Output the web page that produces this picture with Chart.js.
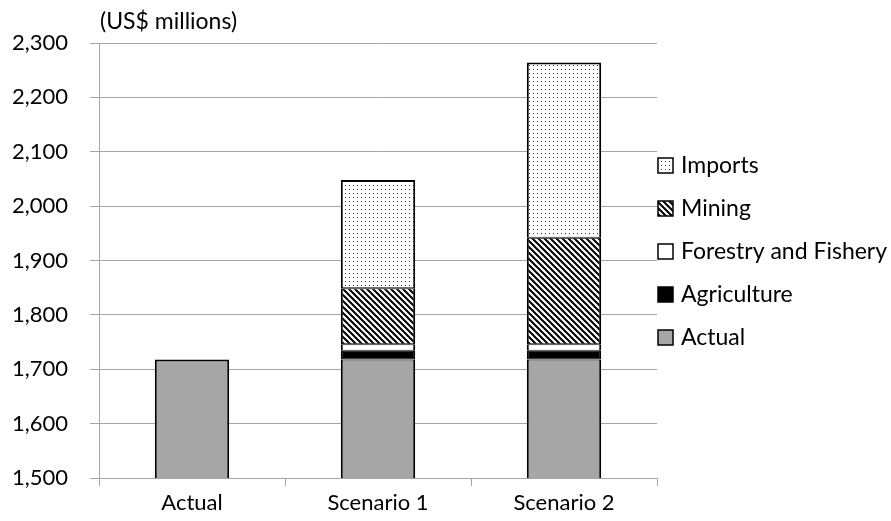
<!DOCTYPE html>
<html lang="en">
<head>
    <meta charset="UTF-8">
    <title>Scenario chart</title>
    <script src="https://cdn.jsdelivr.net/npm/chart.js"></script>
    <style>
        body { margin: 0; background: #ffffff; }
        #wrap { width: 891px; height: 521px; }
    </style>
</head>
<body>
    <div id="wrap"><canvas id="chart"></canvas></div>
    <script>
        // data
        const categories = ['Actual', 'Scenario 1', 'Scenario 2'];
        const actual = [1718, 1718, 1718];
        const agriculture = [null, 16, 16];
        const forestry = [null, 12, 12];
        const mining = [null, 103, 196];
        const imports = [null, 199, 322];
        const yTicks = [1500, 1600, 1700, 1800, 1900, 2000, 2100, 2200, 2300];

        const FONT = 'Lato, "DejaVu Sans", sans-serif';
        const FSIZE = 23;   // legend and unit label
        const TSIZE = 22;   // axis tick labels

        // dotted fill for Imports
        function dotPattern() {
            const c = document.createElement('canvas');
            c.width = 4; c.height = 4;
            const g = c.getContext('2d');
            g.fillStyle = '#ffffff';
            g.fillRect(0, 0, 4, 4);
            g.fillStyle = '#333333';
            g.fillRect(1, 1, 1, 1);
            return g.createPattern(c, 'repeat');
        }

        // diagonal hatch for Mining
        function hatchPattern() {
            const c = document.createElement('canvas');
            c.width = 6; c.height = 6;
            const g = c.getContext('2d');
            g.fillStyle = '#ffffff';
            g.fillRect(0, 0, 6, 6);
            g.strokeStyle = '#000000';
            g.lineWidth = 2;
            g.beginPath();
            g.moveTo(-1, -1); g.lineTo(7, 7);
            g.moveTo(-4, 2); g.lineTo(4, 10);
            g.moveTo(2, -4); g.lineTo(10, 4);
            g.stroke();
            return g.createPattern(c, 'repeat');
        }

        // unit label above the axis
        const unitLabel = {
            id: 'unitLabel',
            afterDraw(chart) {
                const ctx = chart.ctx;
                ctx.save();
                ctx.font = FSIZE + 'px ' + FONT;
                ctx.fillStyle = '#000000';
                ctx.textBaseline = 'middle';
                ctx.fillText('(US$ millions)', chart.chartArea.left + 1, 22);
                ctx.restore();
            }
        };

        // legend on the right, top series first, boxes touching the plot edge
        const sideLegend = {
            id: 'sideLegend',
            afterDraw(chart) {
                const ctx = chart.ctx;
                const area = chart.chartArea;
                const sets = chart.data.datasets.slice().reverse();
                ctx.save();
                ctx.font = FSIZE + 'px ' + FONT;
                ctx.textBaseline = 'middle';
                sets.forEach((ds, i) => {
                    const y = area.top + 122 + i * 43;
                    const x = area.right + 1;
                    ctx.fillStyle = ds.backgroundColor;
                    ctx.fillRect(x, y - 7, 15, 15);
                    ctx.strokeStyle = '#000000';
                    ctx.lineWidth = 1.5;
                    ctx.strokeRect(x, y - 7, 15, 15);
                    ctx.fillStyle = '#000000';
                    ctx.fillText(ds.label, x + 23, y + 1);
                });
                ctx.restore();
            }
        };

        // thin shared edges between stacked segments, heavier outline on the outside
        function edges(topW) {
            return ctx => ({ left: 2, right: 2, bottom: 1, top: (ctx.datasetIndex === 4 || ctx.dataIndex === 0) ? 2 : topW });
        }

        const barStyle = { borderColor: '#000000', borderSkipped: false, stack: 's' };

        new Chart(document.getElementById('chart'), {
            type: 'bar',
            data: {
                labels: categories,
                datasets: [
                    { label: 'Actual', data: actual, backgroundColor: '#a6a6a6', borderWidth: edges(1), ...barStyle },
                    { label: 'Agriculture', data: agriculture, backgroundColor: '#000000', borderWidth: edges(1), ...barStyle },
                    { label: 'Forestry and Fishery', data: forestry, backgroundColor: '#ffffff', borderWidth: edges(1), ...barStyle },
                    { label: 'Mining', data: mining, backgroundColor: hatchPattern(), borderWidth: edges(1), ...barStyle },
                    { label: 'Imports', data: imports, backgroundColor: dotPattern(), borderWidth: edges(2), ...barStyle }
                ]
            },
            options: {
                responsive: true,
                maintainAspectRatio: false,
                animation: false,
                layout: { padding: { top: 43, left: 0, bottom: 0, right: 234 } },
                datasets: { bar: { categoryPercentage: 1, barPercentage: 0.4 } },
                plugins: {
                    tooltip: { enabled: false },
                    legend: { display: false }
                },
                scales: {
                    x: {
                        stacked: true,
                        afterFit(axis) { axis.height = 43; },
                        grid: { drawOnChartArea: false, drawTicks: true, tickLength: 8, color: '#a6a6a6' },
                        border: { color: '#a6a6a6', width: 1 },
                        ticks: { color: '#000000', font: { family: FONT, size: TSIZE }, padding: 4 }
                    },
                    y: {
                        stacked: true,
                        min: yTicks[0],
                        max: yTicks[yTicks.length - 1],
                        afterBuildTicks(axis) { axis.ticks = yTicks.map(v => ({ value: v })); },
                        afterFit(axis) { axis.width = 99; },
                        grid: { color: '#a6a6a6', tickLength: 9 },
                        border: { color: '#a6a6a6', width: 1 },
                        ticks: { color: '#000000', font: { family: FONT, size: TSIZE }, padding: 22 }
                    }
                }
            },
            plugins: [unitLabel, sideLegend]
        });
    </script>
</body>
</html>
